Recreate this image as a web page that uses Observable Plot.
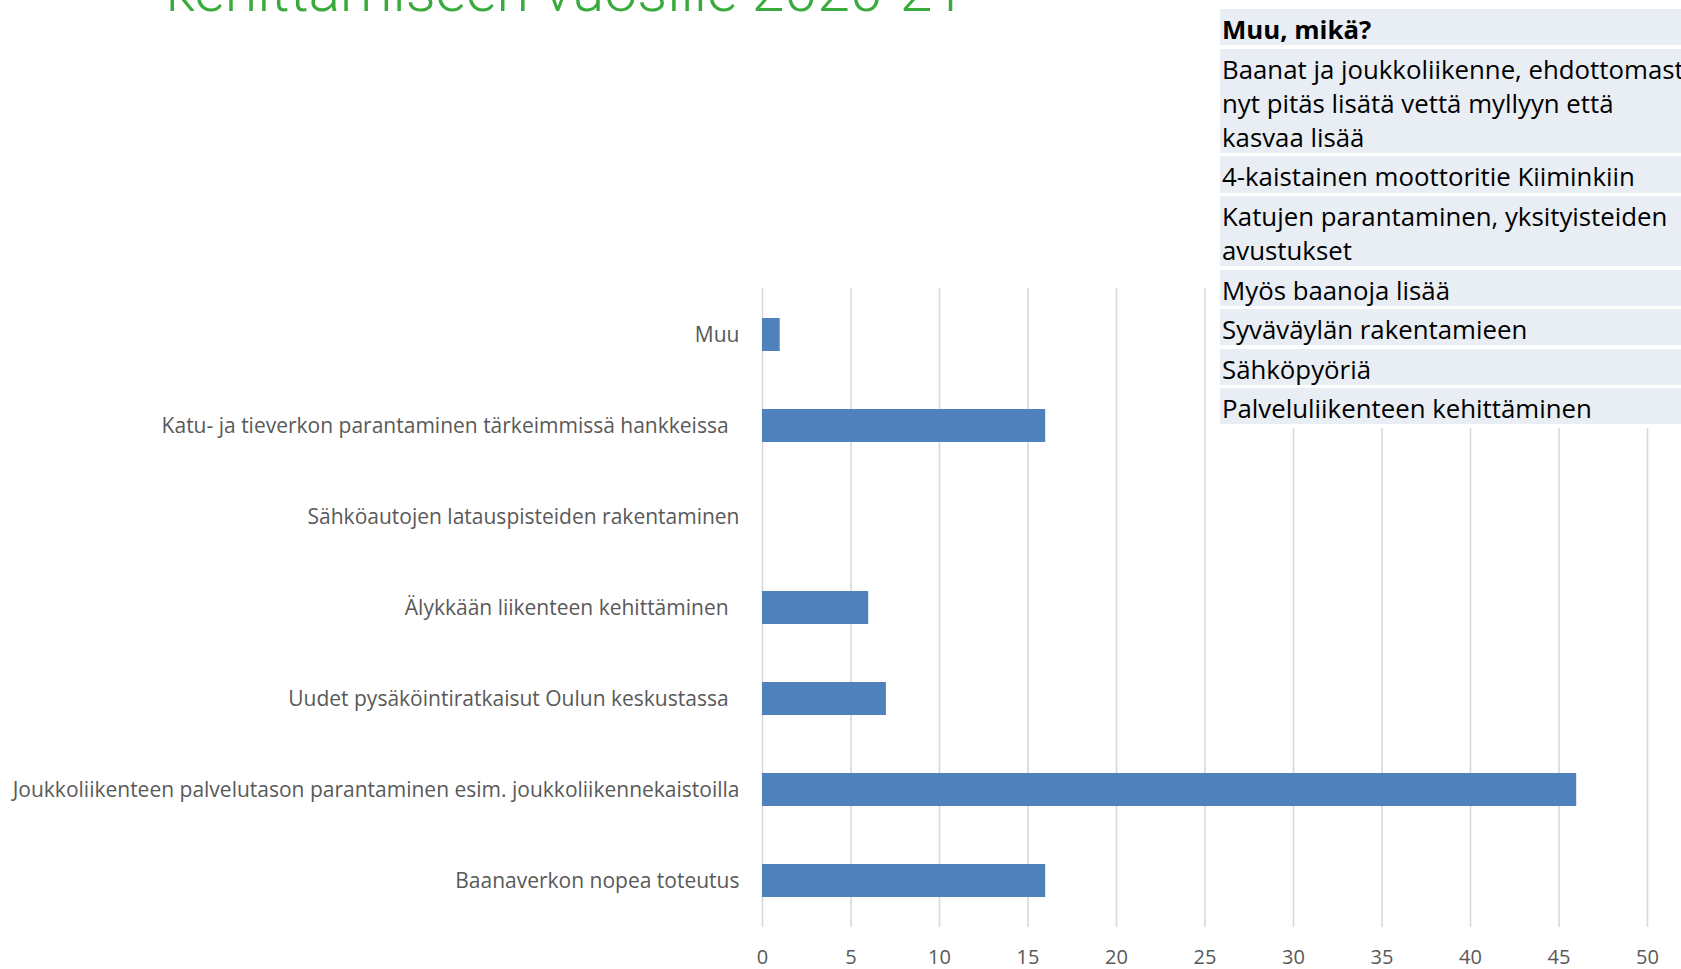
<!DOCTYPE html>
<html><head><meta charset="utf-8">
<script src="https://cdn.jsdelivr.net/npm/d3@7"></script>
<script src="https://cdn.jsdelivr.net/npm/@observablehq/plot@0.6"></script>
<style>
html,body{margin:0;padding:0;background:#fff;width:1681px;height:969px;overflow:hidden;position:relative;}
#title{position:absolute;left:166px;top:-39px;font-family:Roboto;font-weight:300;font-size:59px;line-height:59px;color:#38ab3c;white-space:nowrap;}
#chart{position:absolute;left:0;top:0;}
#tbl{position:absolute;left:1220px;top:9px;width:461px;background:#fff;overflow:hidden;font-family:"Open Sans";font-size:25.8px;color:#000;}
.row{background:#e9edf4;margin-bottom:3.3px;padding:1px 0 1px 2px;white-space:nowrap;line-height:34.2px;}
.row span{position:relative;top:2px;}
.row.head{font-weight:bold;}
</style></head>
<body>
<div id="chart"></div>
<div id="title"></div>
<div id="tbl"></div>
<script>
const titleText = "kehittämiseen vuosille 2020-21";
const categories = [
  "Muu",
  "Katu- ja tieverkon parantaminen tärkeimmissä hankkeissa  ",
  "Sähköautojen latauspisteiden rakentaminen",
  "Älykkään liikenteen kehittäminen  ",
  "Uudet pysäköintiratkaisut Oulun keskustassa  ",
  "Joukkoliikenteen palvelutason parantaminen esim. joukkoliikennekaistoilla",
  "Baanaverkon nopea toteutus"
];
const values = [1, 16, 0, 6, 7, 46, 16];
const xTicks = [0, 5, 10, 15, 20, 25, 30, 35, 40, 45, 50];
const tableHeader = "Muu, mikä?";
const otherAnswers = [
  ["Baanat ja joukkoliikenne, ehdottomasti", "nyt pitäs lisätä vettä myllyyn että", "kasvaa lisää"],
  ["4-kaistainen moottoritie Kiiminkiin"],
  ["Katujen parantaminen, yksityisteiden", "avustukset"],
  ["Myös baanoja lisää"],
  ["Syväväylän rakentamieen"],
  ["Sähköpyöriä"],
  ["Palveluliikenteen kehittäminen"]
];

const data = categories.map((c, i) => ({category: c, value: values[i]}));
const fmtLabel = d => d.replace(/ +$/, m => "\u00a0".repeat(m.length));

const chart = Plot.plot({
  width: 1681,
  height: 969,
  marginLeft: 762,
  marginRight: 34,
  marginTop: 288,
  marginBottom: 42,
  style: {fontFamily: "Open Sans", fontSize: "20px", color: "#595959", background: "transparent"},
  x: {domain: [0, 50], ticks: xTicks, label: null, tickSize: 0, tickPadding: 22},
  y: {domain: categories, paddingInner: 0.64, paddingOuter: 0.32, label: null},
  marks: [
    Plot.gridX(xTicks, {stroke: "#d9d9d9", strokeOpacity: 1, strokeWidth: 1.6}),
    Plot.barX(data, {x: "value", y: "category", fill: "#4f81bd"}),
    Plot.axisY({tickSize: 0, tickPadding: 23, fontSize: 21, tickFormat: fmtLabel})
  ]
});
document.getElementById("chart").appendChild(chart);

document.getElementById("title").textContent = titleText;
const tbl = document.getElementById("tbl");
const head = document.createElement("div");
head.className = "row head";
head.innerHTML = "<span></span>";
head.firstChild.textContent = tableHeader;
tbl.appendChild(head);
for (const lines of otherAnswers) {
  const r = document.createElement("div");
  r.className = "row";
  const s = document.createElement("span");
  lines.forEach((l, i) => {
    if (i) s.appendChild(document.createElement("br"));
    s.appendChild(document.createTextNode(l));
  });
  r.appendChild(s);
  tbl.appendChild(r);
}
</script>
</body></html>
